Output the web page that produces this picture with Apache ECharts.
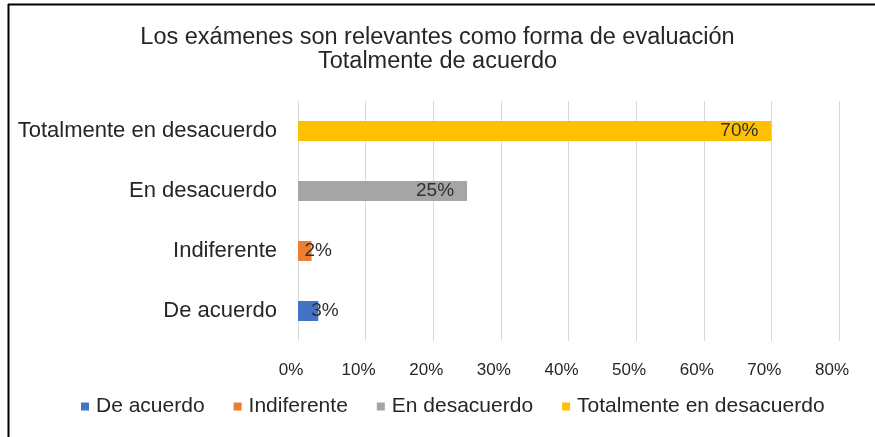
<!DOCTYPE html>
<html><head><meta charset="utf-8">
<script src="https://cdn.jsdelivr.net/npm/echarts@6/dist/echarts.min.js"></script>
<style>html,body{margin:0;padding:0;background:#fff}#c{width:875px;height:437px}</style>
</head><body><div id="c"></div>
<script>
const titleText = 'Los exámenes son relevantes como forma de evaluación\nTotalmente de acuerdo';
const categories = ['De acuerdo', 'Indiferente', 'En desacuerdo', 'Totalmente en desacuerdo'];
const seriesNames = ['De acuerdo', 'Indiferente', 'En desacuerdo', 'Totalmente en desacuerdo'];
const values = [3, 2, 25, 70];
const colors = ['#4472C4', '#ED7D31', '#A5A5A5', '#FFC000'];
const xTicks = [0, 10, 20, 30, 40, 50, 60, 70, 80];

const font = 'Liberation Sans, Arial, sans-serif';
const series = seriesNames.map((name, i) => {
  const data = categories.map((c, j) => j === i ? values[i] : null);
  return {
    name, type: 'bar', stack: 'all', barWidth: 20,
    itemStyle: { color: colors[i] },
    data,
    label: {
      show: true,
      position: values[i] < 10 ? 'right' : 'insideRight',
      offset: values[i] < 10 ? [-12, 0] : [-8, 0],
      formatter: '{c}%',
      color: '#303030', fontFamily: font, fontSize: 19
    }
  };
});

const chart = echarts.init(document.getElementById('c'), null, { renderer: 'canvas' });
chart.setOption({
  animation: false,
  backgroundColor: '#fff',
  title: {
    text: titleText, left: 'center', top: 21,
    textStyle: { fontFamily: font, fontSize: 23.5, fontWeight: 'normal', color: '#262626', lineHeight: 24 }
  },
  legend: {
    bottom: 15, left: 76, itemWidth: 8, itemHeight: 8, itemGap: 29,
    icon: 'rect',
    textStyle: { fontFamily: font, fontSize: 21, color: '#262626', padding: [0, 0, 0, 2] },
    data: seriesNames
  },
  grid: { left: 298, right: 36, top: 101, bottom: 96, containLabel: false },
  xAxis: {
    type: 'value', min: xTicks[0], max: xTicks[xTicks.length - 1], interval: 10,
    axisLabel: { formatter: '{value}%', fontFamily: font, fontSize: 17, color: '#262626', margin: 21, padding: [0, 14, 0, 0] },
    splitLine: { show: true, lineStyle: { color: '#D9D9D9' } },
    axisLine: { show: false }, axisTick: { show: false }
  },
  yAxis: {
    type: 'category', data: categories,
    axisLabel: { fontFamily: font, fontSize: 22, color: '#262626', margin: 21 },
    axisLine: { show: false }, axisTick: { show: false }
  },
  series,
  graphic: [
    { type: 'line', shape: { x1: 8, y1: 4.5, x2: 875, y2: 4.5 }, style: { stroke: '#000', lineWidth: 2 } },
    { type: 'line', shape: { x1: 8.5, y1: 4, x2: 8.5, y2: 437 }, style: { stroke: '#000', lineWidth: 2 } }
  ]
});
</script></body></html>
